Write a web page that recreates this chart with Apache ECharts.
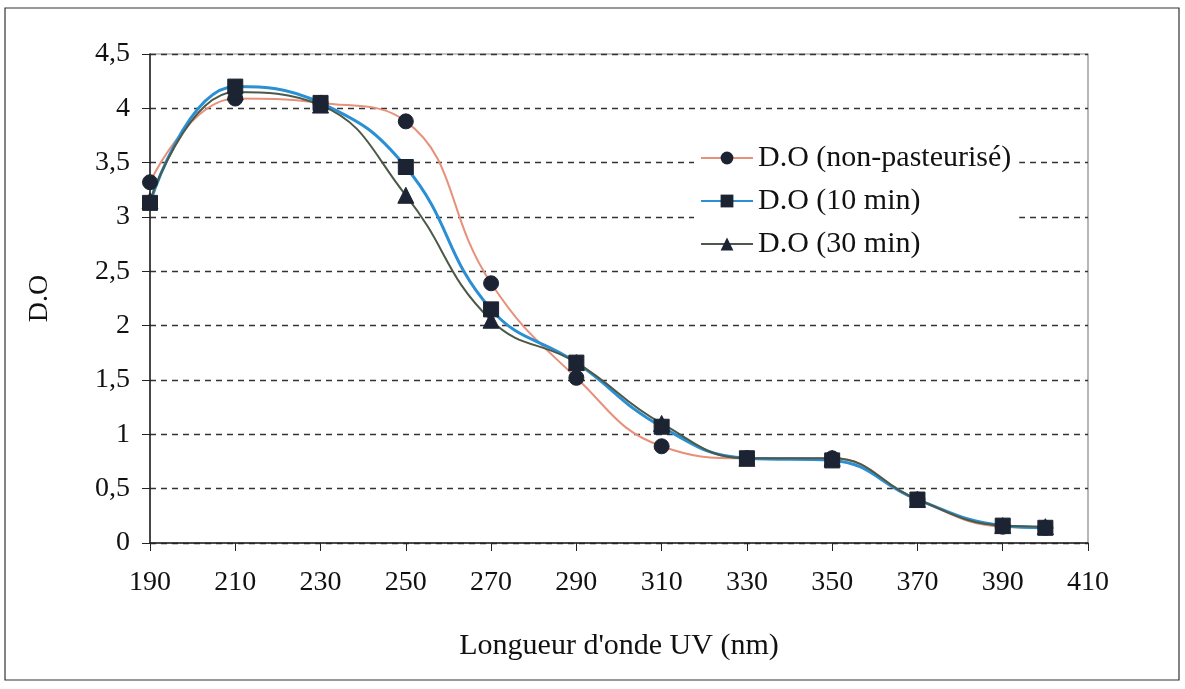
<!DOCTYPE html>
<html><head><meta charset="utf-8">
<script src="https://cdn.jsdelivr.net/npm/echarts@6/dist/echarts.min.js"></script>
<style>html,body{margin:0;padding:0;background:#fff}#c{width:1185px;height:689px}</style>
</head><body><div id="c"></div>
<script>
const wavelengths = [190, 210, 230, 250, 270, 290, 310, 330, 350, 370, 390, 400];
const doNonPast = [3.32, 4.09, 4.05, 3.88, 2.39, 1.52, 0.89, 0.78, 0.78, 0.40, 0.15, 0.14];
const do10min   = [3.13, 4.20, 4.05, 3.46, 2.15, 1.66, 1.07, 0.78, 0.76, 0.40, 0.16, 0.14];
const do30min   = [3.15, 4.15, 4.03, 3.20, 2.05, 1.66, 1.10, 0.78, 0.78, 0.40, 0.16, 0.15];
const seriesNames = ['D.O (non-pasteurisé)', 'D.O (10 min)', 'D.O (30 min)'];

const font = 'Liberation Serif, Times New Roman, serif';
const chart = echarts.init(document.getElementById('c'));
function pairs(v){ return wavelengths.map((x,i)=>[x,v[i]]); }
function mk(name, data, color, symbol, width){
  return {name, type:'line', data:pairs(data), smooth:0.45, symbol, symbolSize: symbol==='triangle'?16:15,
    lineStyle:{color, width}, itemStyle:{color:'#1c2433', borderColor:'#1c2433'}, z:3};
}
chart.setOption({
  animation:false,
  backgroundColor:'#fff',
  graphic:[{type:'rect', shape:{x:5, y:8, width:1174, height:672}, style:{fill:'none', stroke:'#333', lineWidth:1.2}, silent:true}],
  grid:{left:150, right:97, top:54, bottom:146, show:true, borderColor:'#888', borderWidth:1.2},
  legend:{show:true, left:694, top:139, orient:'vertical', itemGap:13, itemWidth:52, itemHeight:16,
    backgroundColor:'#fff', padding:[4,8,4,6],
    textStyle:{fontFamily:font, fontSize:30, color:'#111'}, data:seriesNames},
  xAxis:{type:'value', min:190, max:410, interval:20,
    name:"Longueur d'onde UV (nm)", nameLocation:'middle', nameGap:88,
    nameTextStyle:{fontFamily:font, fontSize:30, color:'#111'},
    axisLine:{lineStyle:{color:'#222', width:1.5}}, axisTick:{show:true, length:8, lineStyle:{color:'#222'}},
    axisLabel:{fontFamily:font, fontSize:28, color:'#111', margin:26}, splitLine:{show:false}},
  yAxis:{type:'value', min:0, max:4.5, interval:0.5,
    name:'D.O', nameLocation:'middle', nameGap:96, nameRotate:90,
    nameTextStyle:{fontFamily:font, fontSize:28, color:'#111'},
    axisLine:{show:true, lineStyle:{color:'#222', width:1.5}}, axisTick:{show:true, length:8, lineStyle:{color:'#222'}},
    axisLabel:{fontFamily:font, fontSize:28, color:'#111', margin:20, formatter:v=>String(v).replace('.',',')},
    splitLine:{show:true, lineStyle:{color:'#333', type:[6,5], width:1.3}}},
  series:[
    mk(seriesNames[0], doNonPast, '#e8907a', 'circle', 2),
    mk(seriesNames[1], do10min, '#2b8fd3', 'rect', 3),
    mk(seriesNames[2], do30min, '#4b5a48', 'triangle', 2)
  ]
});
</script></body></html>
